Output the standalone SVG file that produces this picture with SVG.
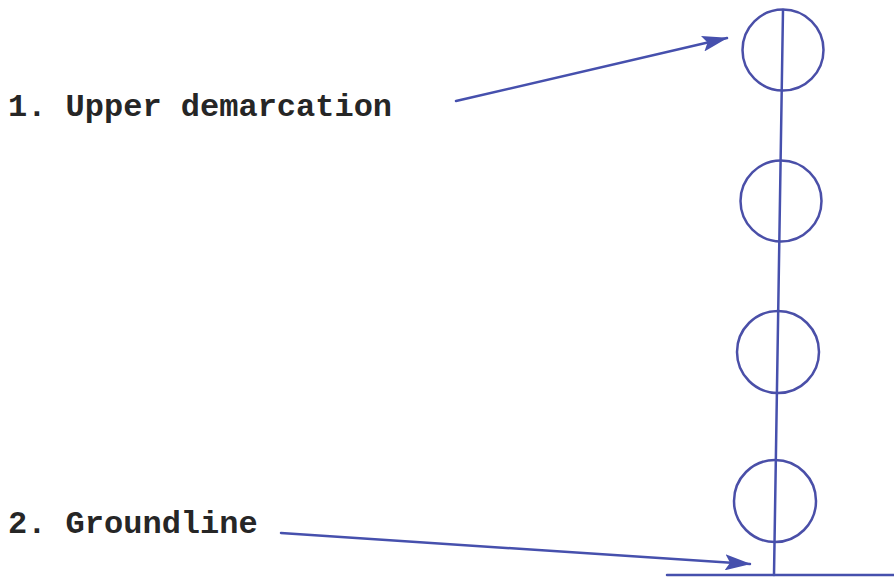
<svg xmlns="http://www.w3.org/2000/svg" width="894" height="578" viewBox="0 0 894 578">
  <style>
    .ink { stroke: #4650ad; stroke-width: 2.5; fill: none; stroke-linecap: round; }
    .ring { stroke: #4a4fa8; stroke-width: 2.5; fill: #fff; }
    .label { font-family: "Liberation Mono", "Courier New", monospace; font-weight: bold; font-size: 32px; fill: #262626; }
  </style>
  <defs>
    <marker id="bighead" viewBox="0 0 26 16" refX="25" refY="8" markerWidth="26" markerHeight="16" markerUnits="userSpaceOnUse" orient="auto">
      <path d="M0,0 L26,8 L0,16 L5,8 Z" fill="#4650ad"/>
    </marker>
  </defs>

  <rect width="894" height="578" fill="#fff"/>

  <!-- ground line -->
  <g id="ground">
    <line class="ink" x1="667" y1="575" x2="894" y2="575"/>
  </g>

  <!-- stacked discs -->
  <g id="disc1"><circle class="ring" cx="783" cy="50" r="40.5"/></g>
  <g id="disc2"><circle class="ring" cx="781" cy="201" r="40.5"/></g>
  <g id="disc3"><circle class="ring" cx="778" cy="352" r="41"/></g>
  <g id="disc4"><circle class="ring" cx="775" cy="501" r="41"/></g>

  <!-- central pole -->
  <g id="pole">
    <line class="ink" x1="783" y1="10" x2="774" y2="575"/>
  </g>

  <g id="label1">
    <text class="label" x="8" y="116">1. Upper demarcation</text>
  </g>
  <g id="label2">
    <text class="label" x="8" y="533">2. Groundline</text>
  </g>

  <!-- pointers -->
  <g id="connectors">
    <line class="ink" x1="456" y1="101" x2="727" y2="38" marker-end="url(#bighead)"/>
    <line class="ink" x1="281" y1="533" x2="750" y2="564" marker-end="url(#bighead)"/>
  </g>
</svg>
